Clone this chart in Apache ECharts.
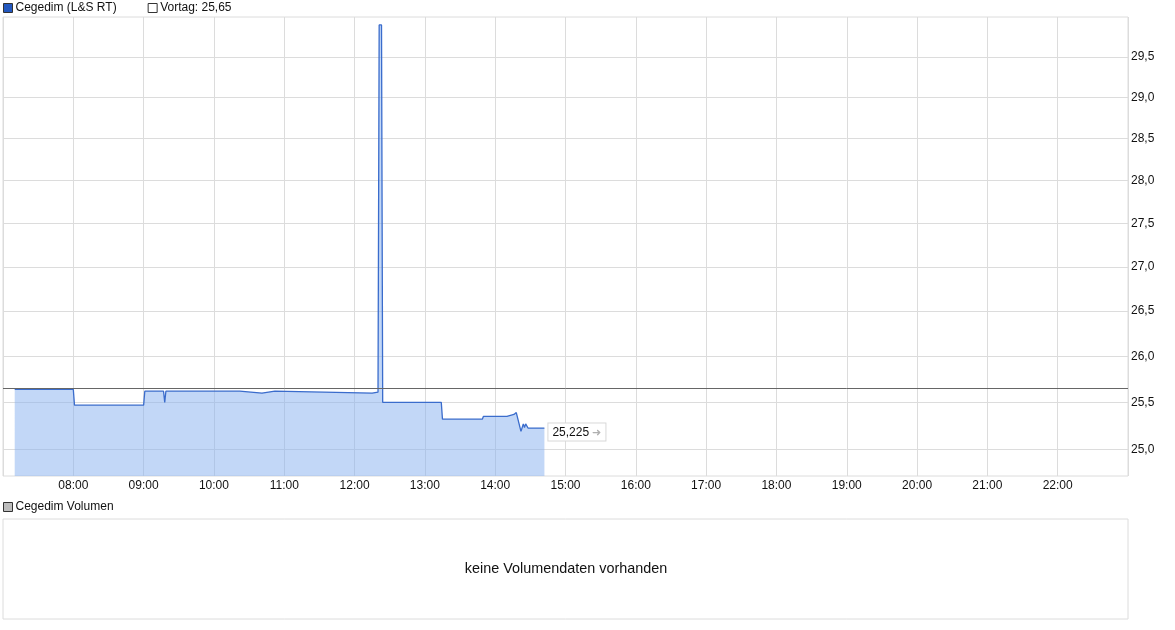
<!DOCTYPE html>
<html>
<head>
<meta charset="utf-8">
<script src="https://cdn.jsdelivr.net/npm/echarts@6/dist/echarts.min.js"></script>
<style>html,body{margin:0;padding:0;background:#fff}#c{width:1175px;height:630px}</style>
</head>
<body>
<div id="c"></div>
<script>
// ---- data ----
var seriesName = 'Cegedim (L&S RT)';
var prevName = 'Vortag: 25,65';
var volName = 'Cegedim Volumen';
var prevClose = 25.65;
var times = ['07:10','08:00','08:01','09:00','09:01','09:17','09:18','09:19','10:22','10:23',
             '10:41','10:42','10:52','10:53','12:15','12:16','12:20','12:21','12:23','12:24',
             '13:14','13:15','13:49','13:50','14:10','14:11','14:16','14:18','14:22','14:24',
             '14:25','14:26','14:28','14:42'];
var prices = [25.64,25.64,25.47,25.47,25.62,25.62,25.50,25.62,25.62,25.60,
              25.60,25.62,25.62,25.60,25.60,25.61,25.61,29.90,29.90,25.50,
              25.50,25.32,25.32,25.35,25.35,25.37,25.37,25.39,25.19,25.27,
              25.23,25.27,25.225,25.225];
var yTicks = [25.0,25.5,26.0,26.5,27.0,27.5,28.0,28.5,29.0,29.5];
var xStartHour = 7, xEndHour = 23;
var yMin = 24.72, yMax = 30.0;
var noVolumeText = 'keine Volumendaten vorhanden';

function toHour(s){var p=s.split(':');return +p[0]+ (+p[1])/60;}
var lineData = times.map(function(t,i){return [toHour(t), prices[i]];});
var font = 'Arial, "Liberation Sans", sans-serif';
function pad(n){return (n<10?'0':'')+n;}

var chart = echarts.init(document.getElementById('c'), null, {renderer:'canvas'});
chart.setOption({
  animation:false,
  textStyle:{fontFamily:font},
  legend:[{
    left:3, top:2, padding:0, itemWidth:9, itemHeight:9, itemGap:31, icon:'rect',
    data:[seriesName, prevName], selectedMode:false,
    textStyle:{fontSize:12, color:'#111', fontFamily:font, padding:[0,0,0,-2]},
    itemStyle:{borderColor:'#333', borderWidth:1}
  },{
    left:3, top:501, padding:0, itemWidth:9, itemHeight:9, icon:'rect',
    data:[volName], selectedMode:false,
    textStyle:{fontSize:12, color:'#111', fontFamily:font, padding:[0,0,0,-2]},
    itemStyle:{borderColor:'#333', borderWidth:1}
  }],
  grid:[
    {left:3, right:47, top:17, bottom:154, show:true, borderColor:'#dcdcdc', borderWidth:1, containLabel:false},
    {left:3, right:47, top:519, height:100, show:true, borderColor:'#dcdcdc', borderWidth:1, containLabel:false}
  ],
  xAxis:[{
    type:'value', gridIndex:0, min:xStartHour, max:xEndHour, interval:1,
    axisLine:{show:false}, axisTick:{show:false},
    splitLine:{show:true, lineStyle:{color:'#dcdcdc', width:1}},
    axisLabel:{showMinLabel:false, showMaxLabel:false, margin:4, fontSize:12, color:'#111', fontFamily:font,
      formatter:function(v){return pad(Math.round(v))+':00';}}
  },{
    type:'value', gridIndex:1, min:xStartHour, max:xEndHour, show:false
  }],
  yAxis:[{
    type:'log', gridIndex:0, position:'right', min:yMin, max:yMax, logBase:10,
    axisLine:{show:false},
    axisTick:{show:false, customValues:yTicks},
    splitLine:{show:true, lineStyle:{color:'#dcdcdc', width:1}},
    axisLabel:{customValues:yTicks, margin:3, fontSize:12, color:'#111', fontFamily:font,
      formatter:function(v){return (+v).toFixed(1).replace('.',',');}}
  },{
    type:'value', gridIndex:1, show:false, min:0, max:1
  }],
  graphic:[{
    type:'text', x:566, y:569,
    style:{text:noVolumeText, textAlign:'center', textVerticalAlign:'middle', font:'14.4px '+font, fill:'#111'}
  }],
  series:[{
    name:seriesName, type:'line', xAxisIndex:0, yAxisIndex:0, data:lineData,
    showSymbol:false, symbol:'none', clip:true,
    color:'#2358bf',
    itemStyle:{color:'#2358bf'},
    lineStyle:{color:'#3a6ccc', width:1.3},
    areaStyle:{color:'rgba(133,175,239,0.5)', opacity:1, origin:yMin},
    endLabel:{
      show:true, distance:4, offset:[0,4],
      formatter:function(p){return (+p.value[1]).toFixed(3).replace('.',',')+' {a|➜}';},
      backgroundColor:'#fff', borderColor:'#d8d8d8', borderWidth:1, padding:[3,4,2,4],
      fontSize:12, color:'#111', fontFamily:font,
      rich:{a:{color:'#b0b0b0', fontSize:11}}
    },
    markLine:{
      silent:true, symbol:'none', label:{show:false},
      lineStyle:{color:'#666', width:1, type:'solid'},
      data:[{yAxis:prevClose}]
    }
  },{
    name:prevName, type:'line', xAxisIndex:0, yAxisIndex:0, data:[],
    itemStyle:{color:'#fff'}
  },{
    name:volName, type:'bar', xAxisIndex:1, yAxisIndex:1, data:[],
    itemStyle:{color:'#bdbdbd'}
  }]
});
</script>
</body>
</html>
